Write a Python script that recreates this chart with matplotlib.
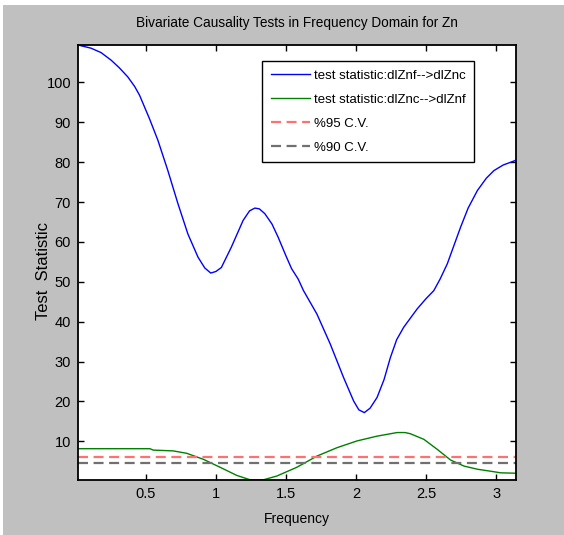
import matplotlib
matplotlib.use("Agg")
import matplotlib.pyplot as plt
from matplotlib.patches import Rectangle
import numpy as np

# ---- data ----
freq_blue = [0.016, 0.109, 0.18, 0.252, 0.31, 0.371, 0.42, 0.455, 0.526, 0.586, 0.657,
             0.729, 0.800, 0.872, 0.92, 0.963, 1.0, 1.039, 1.110, 1.194, 1.24,
             1.278, 1.31, 1.349, 1.40, 1.444, 1.50, 1.54, 1.587, 1.625, 1.721,
             1.816, 1.911, 1.983, 2.02, 2.059, 2.10, 2.150, 2.20, 2.245, 2.29,
             2.340, 2.436, 2.50, 2.555, 2.60, 2.651, 2.746, 2.80, 2.866, 2.93,
             2.984, 3.05, 3.104, 3.1416]
stat_znf_to_znc = [109.4, 108.6, 107.5, 105.6, 103.7, 101.4, 99.0, 96.8, 90.9, 85.5, 77.9,
                   69.6, 62.0, 56.2, 53.5, 52.2, 52.6, 53.6, 58.7, 65.4, 67.8,
                   68.5, 68.3, 67.1, 64.5, 61.2, 56.5, 53.3, 50.7, 47.8, 41.9,
                   34.4, 26.0, 20.1, 17.9, 17.2, 18.3, 21.0, 25.5, 31.0, 35.5,
                   38.6, 43.2, 45.8, 47.8, 50.7, 54.5, 63.7, 68.5, 72.9, 76.0,
                   77.9, 79.3, 80.0, 80.5]

freq_green = [0.016, 0.529, 0.552, 0.695, 0.791, 0.910, 1.029, 1.149, 1.244, 1.30,
              1.339, 1.435, 1.578, 1.721, 1.864, 2.007, 2.150, 2.293, 2.35, 2.388,
              2.484, 2.579, 2.675, 2.770, 2.866, 2.961, 3.032, 3.1416]
stat_znc_to_znf = [8.15, 8.15, 7.8, 7.6, 7.0, 5.5, 3.5, 1.45, 0.35, 0.3,
                   0.35, 1.3, 3.5, 6.3, 8.4, 10.1, 11.3, 12.2, 12.2, 11.9,
                   10.5, 8.0, 5.3, 3.8, 3.0, 2.5, 2.1, 2.0]

cv95 = 5.99
cv90 = 4.61

labels = ["test statistic:dlZnf-->dlZnc", "test statistic:dlZnc-->dlZnf",
          "%95 C.V.", "%90 C.V."]
x_ticks = [0.5, 1, 1.5, 2, 2.5, 3]
y_ticks = [10, 20, 30, 40, 50, 60, 70, 80, 90, 100]

FONT = ["Liberation Sans", "DejaVu Sans"]
plt.rcParams["font.family"] = FONT

W, H = 564, 535
fig = plt.figure(figsize=(W / 100, H / 100), dpi=100, facecolor="white")
# gray MATLAB-like figure background (with thin white strip at top/left)
fig.patches.append(Rectangle((3 / W, 0), 1, 1 - 5 / H, transform=fig.transFigure,
                             facecolor="#c0c0c0", edgecolor="none", zorder=-10))

ax = fig.add_axes([78 / W, 1 - 480 / H, 438 / W, 435 / H])
ax.set_facecolor("white")

xmin, xmax = 0.0157, np.pi
ax.plot(freq_blue, stat_znf_to_znc, color="#0000ff", lw=1.0, label=labels[0])
ax.plot(freq_green, stat_znc_to_znf, color="#008000", lw=1.0, label=labels[1])
ax.plot([xmin, xmax], [cv95, cv95], color="#ff7070", lw=1.6, dashes=(4.5, 2.5),
        label=labels[2])
ax.plot([xmin, xmax], [cv90, cv90], color="#707070", lw=1.6, dashes=(4.5, 2.5),
        label=labels[3])

ax.set_xlim(xmin, xmax)
ax.set_ylim(0.3, 109.4)
ax.set_xticks(x_ticks)
ax.set_xticklabels(["0.5", "1", "1.5", "2", "2.5", "3"])
ax.set_yticks(y_ticks)
ax.tick_params(direction="in", length=4, width=1, top=True, right=True,
               labelsize=10.5, colors="black", pad=5)
for s in ax.spines.values():
    s.set_linewidth(1.3)
    s.set_color("black")

ax.set_title("Bivariate Causality Tests in Frequency Domain for Zn", fontsize=9.8, pad=13)
ax.set_xlabel("Frequency", fontsize=10, labelpad=8)
ax.set_ylabel("Test  Statistic", fontsize=12, labelpad=0)
ax.yaxis.set_label_coords(-(78 - 51) / 438, 0.48)

leg = ax.legend(loc="upper left", bbox_to_anchor=((262 - 78) / 438, 1 - (60.7 - 45) / 435),
                fontsize=9.5, frameon=True, fancybox=False, framealpha=1,
                edgecolor="black", handlelength=3.0, handletextpad=0.3,
                labelspacing=0.9, borderpad=0.65, borderaxespad=0)
leg.get_frame().set_linewidth(1.0)

fig.savefig("out.png", dpi=100, facecolor=fig.get_facecolor())
